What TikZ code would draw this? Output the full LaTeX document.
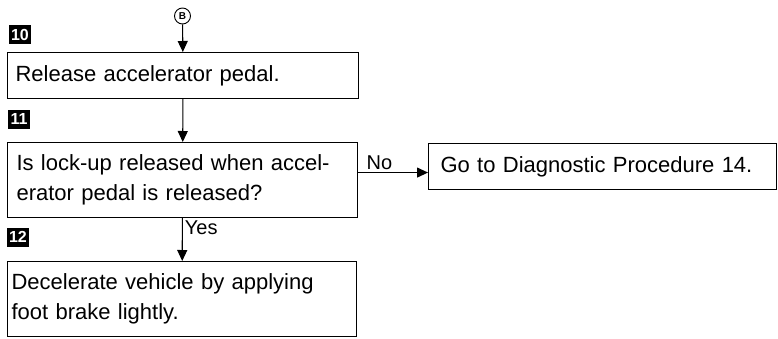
\documentclass[tikz,border=0pt]{standalone}
\usepackage{fontspec}
\setmainfont{Liberation Sans}
\usepackage{tikz}
\usetikzlibrary{positioning, arrows.meta, calc}
\tikzset{
  stepbox/.style={draw, line width=1.1pt, rectangle, anchor=north west, align=left, inner ysep=0pt, font=\fontsize{22}{30}\selectfont},
  stepno/.style={fill=black, text=white, minimum width=22pt, minimum height=19pt, inner sep=0pt, font=\bfseries\fontsize{16}{16}\selectfont},
  conn/.style={draw, circle, line width=0.9pt, minimum size=16pt, inner sep=0pt, font=\bfseries\fontsize{10}{10}\selectfont},
  flow/.style={line width=1.1pt, -{Triangle[length=11pt, width=10pt]}},
  answer/.style={font=\fontsize{20}{20}\selectfont, inner sep=2pt}
}

\begin{document}
\begin{tikzpicture}[x=1pt, y=-1pt]
  \useasboundingbox (0,0) rectangle (778,338);

  % Connector from previous page
  \node[conn] (B) at (182.5,16) {B};

  % Step numbers
  \node[stepno] (n10) at (20,34.5) {10};
  \node[stepno] (n11) at (19,119) {11};
  \node[stepno] (n12) at (18,237) {12};

  % Step boxes
  \node[stepbox, inner xsep=8pt, text width=335pt, minimum height=46pt] (rel) at (7,52) {Release accelerator pedal.};
  \node[stepbox, inner xsep=9pt, text width=332pt, minimum height=75pt] (chk) at (7,142) {Is lock-up released when accel-\\erator pedal is released?};
  \node[stepbox, inner xsep=4pt, text width=341pt, minimum height=75pt] (dec) at (7,261) {Decelerate vehicle by applying\\foot brake lightly.};
  \node[stepbox, inner xsep=12pt, text width=324pt, minimum height=46pt] (go14) at (428,143) {Go to Diagnostic Procedure 14.};

  % Flow arrows
  \draw[flow] (B) -- (rel);
  \draw[flow] (rel) -- (chk);
  \draw[flow] (chk) -- node[answer, pos=0, below right] {Yes} (dec);
  \draw[flow] ([yshift=7.5pt]chk.east) -- node[answer, pos=0, above right, xshift=6pt] {No} ([yshift=7.5pt]chk.east -| go14.west);
\end{tikzpicture}
\end{document}
